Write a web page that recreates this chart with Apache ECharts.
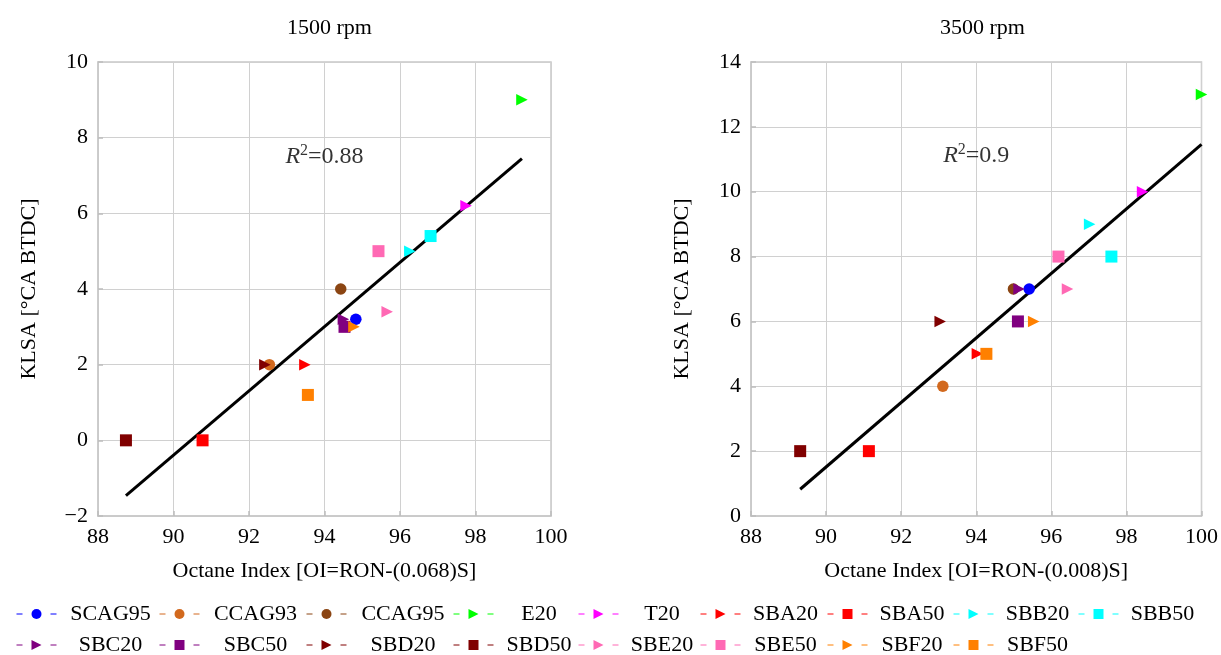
<!DOCTYPE html>
<html>
<head>
<meta charset="utf-8">
<script src="https://cdn.jsdelivr.net/npm/echarts@6/dist/echarts.min.js"></script>
<style>
  html, body { margin: 0; padding: 0; background: #fff; }
  #chart { width: 1221px; height: 655px; }
</style>
</head>
<body>
<div id="chart"></div>
<script>
// Fuels and their measured knock-limited spark advance vs. octane index
const fuels = ['SCAG95', 'CCAG93', 'CCAG95', 'E20', 'T20', 'SBA20', 'SBA50', 'SBB20', 'SBB50',
               'SBC20', 'SBC50', 'SBD20', 'SBD50', 'SBE20', 'SBE50', 'SBF20', 'SBF50'];

// 1500 rpm: OI = RON - 0.068 S
const oi1500   = [94.83, 92.54, 94.43, 99.23, 97.75, 93.48, 90.77, 96.26, 96.81,
                  94.50, 94.53, 92.42, 88.74, 95.66, 95.43, 94.78, 93.56];
const klsa1500 = [3.2, 2, 4, 9, 6.2, 2, 0, 5, 5.4,
                  3.2, 3, 2, 0, 3.4, 5, 3, 1.2];

// 3500 rpm: OI = RON - 0.008 S
const oi3500   = [95.41, 93.11, 94.99, 100.0, 98.43, 94.03, 91.14, 97.02, 97.60,
                  95.14, 95.11, 93.04, 89.31, 96.43, 96.19, 95.53, 94.27];
const klsa3500 = [7, 4, 7, 13, 10, 5, 2, 9, 8,
                  7, 6, 6, 2, 7, 8, 6, 5];

const panelTitles = ['1500 rpm', '3500 rpm'];
const xNames = ['Octane Index [OI=RON-(0.068)S]', 'Octane Index [OI=RON-(0.008)S]'];
const yName = 'KLSA [°CA BTDC]';
const r2Text = ['0.88', '0.9'];
const r2Anchor = [[94, 7.5], [94, 11.1]];

// marker styling per fuel
const colors = ['#0000ff', '#d2691e', '#8b4513', '#00ff00', '#ff00ff', '#ff0000', '#ff0000', '#00ffff', '#00ffff',
                '#800080', '#800080', '#800000', '#800000', '#ff69b4', '#ff69b4', '#ff8000', '#ff8000'];
const shapes = ['circle', 'circle', 'circle', 'tri', 'tri', 'tri', 'sq', 'tri', 'sq',
                'tri', 'sq', 'tri', 'sq', 'tri', 'sq', 'tri', 'sq'];

const FONT = '"Liberation Serif", "Times New Roman", serif';
const FS = 22;

// least-squares fit drawn between the extreme octane indices
function fitLine(xs, ys) {
  const n = xs.length;
  const mx = xs.reduce((a, b) => a + b, 0) / n;
  const my = ys.reduce((a, b) => a + b, 0) / n;
  let sxy = 0, sxx = 0;
  for (let i = 0; i < n; i++) { sxy += (xs[i] - mx) * (ys[i] - my); sxx += (xs[i] - mx) ** 2; }
  const b = sxy / sxx, a = my - b * mx;
  const x0 = Math.min(...xs), x1 = Math.max(...xs);
  return [[x0, a + b * x0], [x1, a + b * x1]];
}

function symbolOf(s) {
  if (s === 'circle') return { symbol: 'circle', symbolSize: 11.5, symbolRotate: 0 };
  if (s === 'sq') return { symbol: 'rect', symbolSize: 12, symbolRotate: 0 };
  return { symbol: 'triangle', symbolSize: 11.5, symbolRotate: -90 };
}

const panels = [[oi1500, klsa1500], [oi3500, klsa3500]];
const series = [];
panels.forEach(([xs, ys], k) => {
  series.push({
    type: 'line', xAxisIndex: k, yAxisIndex: k, data: fitLine(xs, ys),
    showSymbol: false, silent: true, z: 2,
    lineStyle: { color: '#000', width: 3 }
  });
  fuels.forEach((name, i) => {
    series.push(Object.assign({
      type: 'line', name, xAxisIndex: k, yAxisIndex: k,
      data: [[xs[i], ys[i]]], z: 3, clip: false,
      itemStyle: { color: colors[i] }, lineStyle: { color: colors[i] },
      emphasis: { disabled: true }
    }, symbolOf(shapes[i])));
  });
  series.push({
    type: 'scatter', xAxisIndex: k, yAxisIndex: k, data: [r2Anchor[k]],
    symbolSize: 0, silent: true, z: 4,
    label: {
      show: true, position: 'inside', color: '#000', textBorderWidth: 0,
      formatter: '{i|R}{s|2}{n|=' + r2Text[k] + '}',
      rich: {
        i: { fontFamily: FONT, fontSize: 24, fontStyle: 'italic', color: '#000', lineHeight: 28, textBorderWidth: 0 },
        s: { fontFamily: FONT, fontSize: 16, color: '#000', lineHeight: 16, verticalAlign: 'top', textBorderWidth: 0 },
        n: { fontFamily: FONT, fontSize: 24, color: '#000', lineHeight: 28, textBorderWidth: 0 }
      }
    }
  });
});

// legend laid out as a 9-column table, two rows
const colIconX = [16, 159, 306, 453, 578, 700, 827, 953, 1078];
const colTextC = [110, 255, 402.5, 538.5, 661.5, 785, 911.5, 1037, 1162];
const rowTop = [603, 634];
const legends = fuels.map((name, i) => {
  const col = i < 9 ? i : i - 9;
  const row = i < 9 ? 0 : 1;
  const w = 2 * (colTextC[col] - (colIconX[col] + 45));
  return {
    left: colIconX[col], top: rowTop[row], padding: 0, itemGap: 0,
    itemWidth: 40, itemHeight: 12.5, selectedMode: false,
    data: [name],
    formatter: n => '{t|' + n + '}',
    lineStyle: { width: 1, type: [6, 28], opacity: 1 },
    textStyle: { rich: { t: { width: w, align: 'center', fontFamily: FONT, fontSize: FS, color: '#000', lineHeight: 22 } } }
  };
});

const gridPos = [{ left: 98, top: 62, width: 453, height: 454 }, { left: 751, top: 62, width: 453, height: 454 }];
const yRange = [[-2, 10], [0, 14]];

function xAxisOf(k) {
  return {
    type: 'value', gridIndex: k, min: 88, max: 100, interval: 2,
    name: xNames[k], nameLocation: 'middle', nameGap: 44,
    nameTextStyle: { fontFamily: FONT, fontSize: FS, color: '#000' },
    axisLine: { show: true, onZero: false, lineStyle: { color: '#c8c8c8', width: 1.5 } },
    axisTick: { show: true, inside: true, length: 5, lineStyle: { color: '#bdbdbd', width: 1.5 } },
    axisLabel: { fontFamily: FONT, fontSize: FS, color: '#000', margin: 10 },
    splitLine: { show: true, lineStyle: { color: '#d0d0d0', width: 1 } }
  };
}
function yAxisOf(k) {
  return {
    type: 'value', gridIndex: k, min: yRange[k][0], max: yRange[k][1], interval: 2,
    name: yName, nameLocation: 'middle', nameGap: 58, nameRotate: 90,
    nameTextStyle: { fontFamily: FONT, fontSize: FS, color: '#000' },
    axisLine: { show: true, onZero: false, lineStyle: { color: '#c8c8c8', width: 1.5 } },
    axisTick: { show: true, inside: true, length: 5, lineStyle: { color: '#bdbdbd', width: 1.5 } },
    axisLabel: { fontFamily: FONT, fontSize: FS, color: '#000', margin: 10,
                 formatter: v => v < 0 ? '\u2212' + Math.abs(v) : String(v) },
    splitLine: { show: true, lineStyle: { color: '#d0d0d0', width: 1 } }
  };
}

const chart = echarts.init(document.getElementById('chart'), null, { renderer: 'canvas' });
chart.setOption({
  animation: false,
  backgroundColor: '#fff',
  title: panelTitles.map((t, k) => ({
    text: t, left: gridPos[k].left + gridPos[k].width / 2, top: 12, textAlign: 'center',
    textStyle: { fontFamily: FONT, fontSize: FS, fontWeight: 'normal', color: '#000' }
  })),
  legend: legends,
  grid: gridPos.map(g => Object.assign({ show: true, borderColor: '#c8c8c8', borderWidth: 1.5, backgroundColor: 'transparent' }, g)),
  xAxis: [xAxisOf(0), xAxisOf(1)],
  yAxis: [yAxisOf(0), yAxisOf(1)],
  series
});
</script>
</body>
</html>
